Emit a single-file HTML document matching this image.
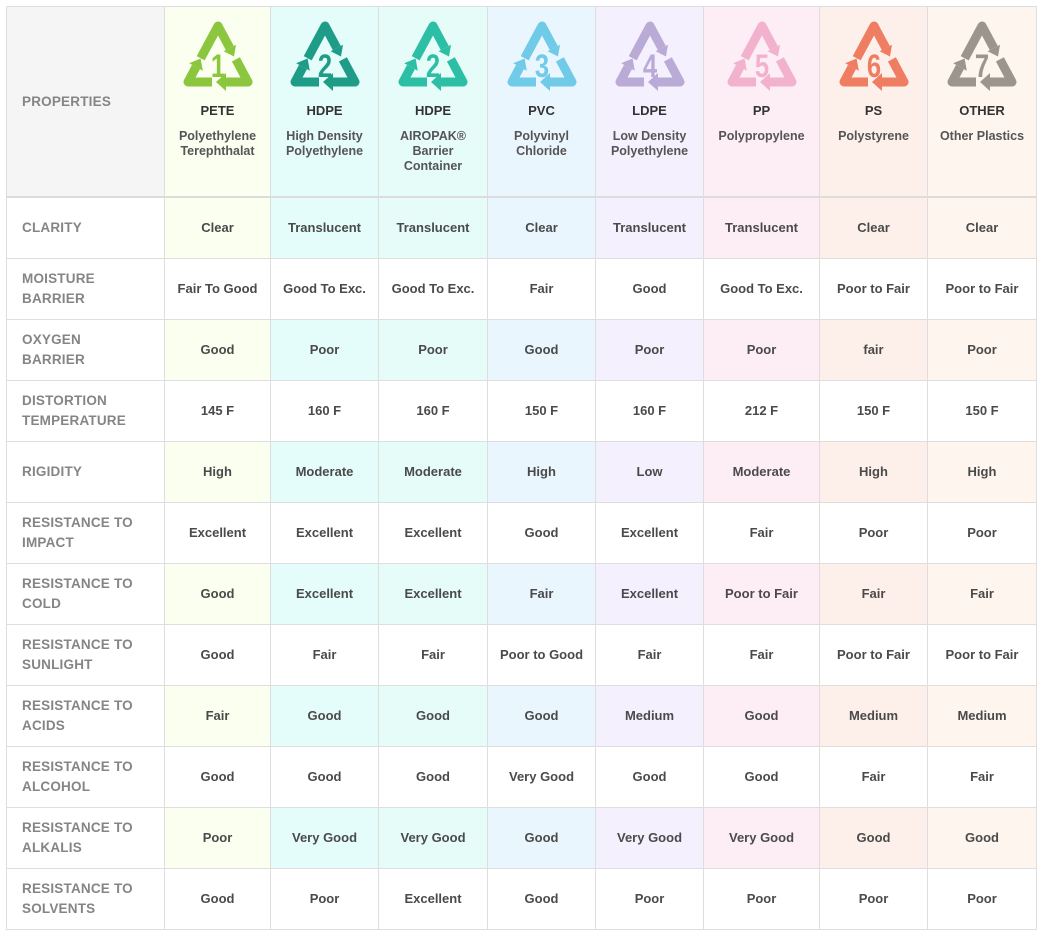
<!DOCTYPE html>
<html><head><meta charset="utf-8"><style>
body{margin:0;background:#fff;width:1042px;height:933px;overflow:hidden;font-family:"Liberation Sans",sans-serif}
table{position:absolute;left:6px;top:6px;border-collapse:collapse;table-layout:fixed;width:1030px}
td{border:1px solid #dedede;text-align:center;vertical-align:middle;font-weight:bold;font-size:13px;color:#4a4a4a;height:60px;padding:0;line-height:20px}
td.p{text-align:left;padding-left:15px;color:#858585;font-size:13.5px;letter-spacing:0.2px}
tr.h td{height:189px;vertical-align:top;border-bottom:2px solid #dcdcdc}
tr.h td.p{vertical-align:middle;background:#f5f5f5}
.nm{margin-top:11px;font-size:13px;color:#333;line-height:16px}
.sub{margin-top:10px;font-size:12.5px;color:#555;line-height:15px}
svg{display:block;margin:13px auto 0}
.c1{background:#fafff0}.c2{background:#e4fcfa}.c3{background:#e6fcf9}.c4{background:#eaf6fd}.c5{background:#f5f0fe}.c6{background:#fdeef5}.c7{background:#fdf0ea}.c8{background:#fdf5ee}
</style></head><body>
<svg width="0" height="0" style="position:absolute"><defs>
<g id="r">
<path d="M18.7 38.2 L36 6 L47.8 28" fill="none" stroke="currentColor" stroke-width="9" stroke-linejoin="round"/>
<polygon points="54,24.7 41.6,31.3 52,36.5" fill="currentColor"/>
<path d="M53.9 39.4 L66 62 L44 62" fill="none" stroke="currentColor" stroke-width="9" stroke-linejoin="round"/>
<polygon points="44,53 44,71 34,62" fill="currentColor"/>
<path d="M30 62 L6 62 L14 47" fill="none" stroke="currentColor" stroke-width="9" stroke-linejoin="round"/>
<polygon points="20.8,50.8 7.2,43.2 18.6,38.5" fill="currentColor"/>
</g></defs></svg>
<table>
<colgroup><col style="width:158px"><col style="width:106px"><col style="width:108px"><col style="width:109px"><col style="width:108px"><col style="width:108px"><col style="width:116px"><col style="width:108px"><col style="width:109px"></colgroup>
<tr class="h"><td class="p">PROPERTIES</td>
<td class="c1"><svg width="72" height="72" style="color:#8cc63f"><use href="#r"/><text transform="translate(36,57) scale(0.8,1)" text-anchor="middle" font-size="32" font-weight="bold" fill="#8cc63f">1</text></svg><div class="nm">PETE</div><div class="sub">Polyethylene<br>Terephthalat</div></td>
<td class="c2"><svg width="72" height="72" style="color:#1e9c88"><use href="#r"/><text transform="translate(36,57) scale(0.8,1)" text-anchor="middle" font-size="32" font-weight="bold" fill="#1e9c88">2</text></svg><div class="nm">HDPE</div><div class="sub">High Density<br>Polyethylene</div></td>
<td class="c3"><svg width="72" height="72" style="color:#2cbfa6"><use href="#r"/><text transform="translate(36,57) scale(0.8,1)" text-anchor="middle" font-size="32" font-weight="bold" fill="#2cbfa6">2</text></svg><div class="nm">HDPE</div><div class="sub">AIROPAK®<br>Barrier<br>Container</div></td>
<td class="c4"><svg width="72" height="72" style="color:#6fcbe8"><use href="#r"/><text transform="translate(36,57) scale(0.8,1)" text-anchor="middle" font-size="32" font-weight="bold" fill="#6fcbe8">3</text></svg><div class="nm">PVC</div><div class="sub">Polyvinyl<br>Chloride</div></td>
<td class="c5"><svg width="72" height="72" style="color:#b9aad6"><use href="#r"/><text transform="translate(36,57) scale(0.8,1)" text-anchor="middle" font-size="32" font-weight="bold" fill="#b9aad6">4</text></svg><div class="nm">LDPE</div><div class="sub">Low Density<br>Polyethylene</div></td>
<td class="c6"><svg width="72" height="72" style="color:#f2b2cd"><use href="#r"/><text transform="translate(36,57) scale(0.8,1)" text-anchor="middle" font-size="32" font-weight="bold" fill="#f2b2cd">5</text></svg><div class="nm">PP</div><div class="sub">Polypropylene</div></td>
<td class="c7"><svg width="72" height="72" style="color:#ee7d62"><use href="#r"/><text transform="translate(36,57) scale(0.8,1)" text-anchor="middle" font-size="32" font-weight="bold" fill="#ee7d62">6</text></svg><div class="nm">PS</div><div class="sub">Polystyrene</div></td>
<td class="c8"><svg width="72" height="72" style="color:#9b958d"><use href="#r"/><text transform="translate(36,57) scale(0.8,1)" text-anchor="middle" font-size="32" font-weight="bold" fill="#9b958d">7</text></svg><div class="nm">OTHER</div><div class="sub">Other Plastics</div></td></tr>
<tr><td class="p">CLARITY</td><td class="c1">Clear</td><td class="c2">Translucent</td><td class="c3">Translucent</td><td class="c4">Clear</td><td class="c5">Translucent</td><td class="c6">Translucent</td><td class="c7">Clear</td><td class="c8">Clear</td></tr>
<tr><td class="p">MOISTURE<br>BARRIER</td><td>Fair To Good</td><td>Good To Exc.</td><td>Good To Exc.</td><td>Fair</td><td>Good</td><td>Good To Exc.</td><td>Poor to Fair</td><td>Poor to Fair</td></tr>
<tr><td class="p">OXYGEN<br>BARRIER</td><td class="c1">Good</td><td class="c2">Poor</td><td class="c3">Poor</td><td class="c4">Good</td><td class="c5">Poor</td><td class="c6">Poor</td><td class="c7">fair</td><td class="c8">Poor</td></tr>
<tr><td class="p">DISTORTION<br>TEMPERATURE</td><td>145 F</td><td>160 F</td><td>160 F</td><td>150 F</td><td>160 F</td><td>212 F</td><td>150 F</td><td>150 F</td></tr>
<tr><td class="p">RIGIDITY</td><td class="c1">High</td><td class="c2">Moderate</td><td class="c3">Moderate</td><td class="c4">High</td><td class="c5">Low</td><td class="c6">Moderate</td><td class="c7">High</td><td class="c8">High</td></tr>
<tr><td class="p">RESISTANCE TO<br>IMPACT</td><td>Excellent</td><td>Excellent</td><td>Excellent</td><td>Good</td><td>Excellent</td><td>Fair</td><td>Poor</td><td>Poor</td></tr>
<tr><td class="p">RESISTANCE TO<br>COLD</td><td class="c1">Good</td><td class="c2">Excellent</td><td class="c3">Excellent</td><td class="c4">Fair</td><td class="c5">Excellent</td><td class="c6">Poor to Fair</td><td class="c7">Fair</td><td class="c8">Fair</td></tr>
<tr><td class="p">RESISTANCE TO<br>SUNLIGHT</td><td>Good</td><td>Fair</td><td>Fair</td><td>Poor to Good</td><td>Fair</td><td>Fair</td><td>Poor to Fair</td><td>Poor to Fair</td></tr>
<tr><td class="p">RESISTANCE TO<br>ACIDS</td><td class="c1">Fair</td><td class="c2">Good</td><td class="c3">Good</td><td class="c4">Good</td><td class="c5">Medium</td><td class="c6">Good</td><td class="c7">Medium</td><td class="c8">Medium</td></tr>
<tr><td class="p">RESISTANCE TO<br>ALCOHOL</td><td>Good</td><td>Good</td><td>Good</td><td>Very Good</td><td>Good</td><td>Good</td><td>Fair</td><td>Fair</td></tr>
<tr><td class="p">RESISTANCE TO<br>ALKALIS</td><td class="c1">Poor</td><td class="c2">Very Good</td><td class="c3">Very Good</td><td class="c4">Good</td><td class="c5">Very Good</td><td class="c6">Very Good</td><td class="c7">Good</td><td class="c8">Good</td></tr>
<tr><td class="p">RESISTANCE TO<br>SOLVENTS</td><td>Good</td><td>Poor</td><td>Excellent</td><td>Good</td><td>Poor</td><td>Poor</td><td>Poor</td><td>Poor</td></tr>
</table>
</body></html>
